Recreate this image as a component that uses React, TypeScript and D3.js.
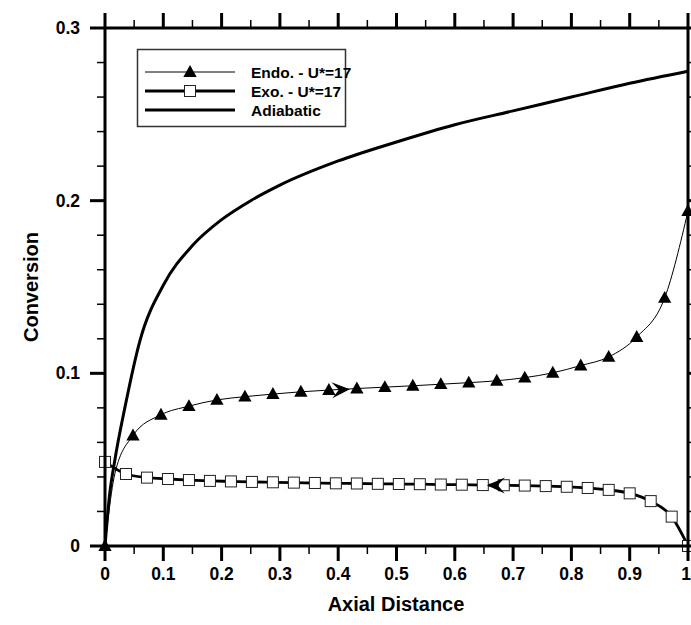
import React from "react";
import * as d3 from "d3";

// ---- data ----
const adiabaticX = [0, 0.008, 0.017, 0.034, 0.06, 0.1, 0.15, 0.2, 0.25, 0.3, 0.4, 0.5, 0.6, 0.7, 0.8, 0.9, 1.0];
const adiabaticY = [0, 0.03, 0.05, 0.08, 0.119, 0.151, 0.174, 0.189, 0.2, 0.209, 0.223, 0.234, 0.244, 0.252, 0.26, 0.268, 0.275];

const endoX = [0, 0.048, 0.096, 0.144, 0.192, 0.24, 0.288, 0.336, 0.384, 0.432, 0.48, 0.528, 0.576, 0.624, 0.672, 0.72, 0.768, 0.816, 0.864, 0.912, 0.96, 1.0];
const endoY = [0, 0.064, 0.076, 0.081, 0.0846, 0.0865, 0.088, 0.0893, 0.0903, 0.0912, 0.092, 0.0928, 0.0937, 0.0946, 0.0957, 0.0975, 0.1003, 0.1045, 0.1095, 0.121, 0.1437, 0.194];
// extra points of the endo curve read near the origin (line only)
const endoLineExtraX = [0.005, 0.017];
const endoLineExtraY = [0.015, 0.042];

const exoX = [0, 0.036, 0.072, 0.108, 0.144, 0.18, 0.216, 0.252, 0.288, 0.324, 0.36, 0.396, 0.432, 0.468, 0.504, 0.54, 0.576, 0.612, 0.648, 0.684, 0.72, 0.756, 0.792, 0.828, 0.864, 0.9, 0.936, 0.972, 1.0];
const exoY = [0.0487, 0.0417, 0.0396, 0.0388, 0.0382, 0.0377, 0.0374, 0.0371, 0.0369, 0.0367, 0.0365, 0.0363, 0.0362, 0.036, 0.0359, 0.0358, 0.0356, 0.0355, 0.0353, 0.0352, 0.035, 0.0347, 0.0343, 0.0336, 0.0325, 0.0305, 0.026, 0.017, 0];

const xTicks = [0, 0.1, 0.2, 0.3, 0.4, 0.5, 0.6, 0.7, 0.8, 0.9, 1];
const xTickLabels = ["0", "0.1", "0.2", "0.3", "0.4", "0.5", "0.6", "0.7", "0.8", "0.9", "1"];
const yTicks = [0, 0.1, 0.2, 0.3];
const yTickLabels = ["0", "0.1", "0.2", "0.3"];

const legendLabels = ["Endo. - U*=17", "Exo. - U*=17", "Adiabatic"];

const FONT = "'Liberation Sans', Arial, Helvetica, sans-serif";

export default function App() {
  const x = d3.scaleLinear().domain([0, 1]).range([105, 688]);
  const y = d3.scaleLinear().domain([0, 0.3]).range([546, 28]);

  const xMinor = d3.range(0.05, 1, 0.1);
  const yMinor = d3.range(0, 0.3001, 0.02).filter((v) => Math.abs(v * 10 - Math.round(v * 10)) > 1e-6);

  const line = d3
    .line<[number, number]>()
    .x((d) => x(d[0]))
    .y((d) => y(d[1]))
    .curve(d3.curveMonotoneX);

  const adiabatic: [number, number][] = adiabaticX.map((v, i) => [v, adiabaticY[i]]);
  const endoPts: [number, number][] = endoX.map((v, i) => [v, endoY[i]]);
  const endoLinePts: [number, number][] = [
    ...endoPts,
    ...endoLineExtraX.map((v, i) => [v, endoLineExtraY[i]] as [number, number]),
  ].sort((a, b) => a[0] - b[0]);
  const exoPts: [number, number][] = exoX.map((v, i) => [v, exoY[i]]);

  const tri = (cx: number, cy: number, s = 7) =>
    `M${cx},${cy - s} L${cx + s * 0.95},${cy + s * 0.7} L${cx - s * 0.95},${cy + s * 0.7} Z`;

  // stealth arrowhead pointing in direction angle (radians)
  const arrow = (px: number, py: number, ang: number) => {
    const L = 18, W = 8, N = 11;
    const c = Math.cos(ang), s = Math.sin(ang);
    const p = (u: number, v: number) => `${px + u * c - v * s},${py + u * s + v * c}`;
    return `M${p(0, 0)} L${p(-L, -W)} L${p(-N, 0)} L${p(-L, W)} Z`;
  };

  const ea = 0.42;
  const eay = 0.0908;
  const endoAng = Math.atan2(y(0.0912) - y(0.0903), x(0.432) - x(0.384));
  const xa = 0.655;
  const xay = 0.03525;
  const exoAng = Math.PI + Math.atan2(y(0.0353) - y(0.0355), x(0.684) - x(0.648));

  const lx0 = 145, lx1 = 235, lmid = 190;
  const rows = [72, 91, 110];

  return (
    <svg
      width={691}
      height={625}
      style={{ position: "absolute", left: 0, top: 0, background: "#fff" }}
      fontFamily={FONT}
    >
      <rect x={0} y={0} width={691} height={625} fill="#fff" />
      {/* data lines */}
      <path d={line(adiabatic) || ""} fill="none" stroke="#000" strokeWidth={3} />
      <path d={line(endoLinePts) || ""} fill="none" stroke="#000" strokeWidth={1} />
      <path d={line(exoPts) || ""} fill="none" stroke="#000" strokeWidth={2.8} />

      {/* squares */}
      {exoPts.map((d, i) => (
        <rect key={"s" + i} x={x(d[0]) - 5.5} y={y(d[1]) - 5.5} width={11} height={11} fill="#fff" stroke="#222" strokeWidth={1} />
      ))}

      {/* arrows */}
      <path d={arrow(x(ea), y(eay), endoAng)} fill="#000" />
      <path d={arrow(x(xa), y(xay), exoAng)} fill="#000" />

      {/* axes frame */}
      <g stroke="#000" fill="none">
        <line x1={105} y1={546} x2={688} y2={546} strokeWidth={3} />
        <line x1={105} y1={28} x2={688} y2={28} strokeWidth={3} />
        <line x1={105} y1={28} x2={105} y2={546} strokeWidth={3} />
        <line x1={688} y1={28} x2={688} y2={546} strokeWidth={3} />
        {xTicks.map((t) => (
          <g key={"xt" + t}>
            <line x1={x(t)} x2={x(t)} y1={546} y2={561} strokeWidth={3} />
            <line x1={x(t)} x2={x(t)} y1={28} y2={13} strokeWidth={3} />
          </g>
        ))}
        {xMinor.map((t) => (
          <g key={"xm" + t}>
            <line x1={x(t)} x2={x(t)} y1={546} y2={554} strokeWidth={1.5} />
            <line x1={x(t)} x2={x(t)} y1={28} y2={20} strokeWidth={1.5} />
          </g>
        ))}
        {yTicks.map((t) => (
          <g key={"yt" + t}>
            <line x1={105} x2={90} y1={y(t)} y2={y(t)} strokeWidth={3} />
            <line x1={688} x2={703} y1={y(t)} y2={y(t)} strokeWidth={3} />
          </g>
        ))}
        {yMinor.map((t) => (
          <g key={"ym" + t}>
            <line x1={105} x2={97} y1={y(t)} y2={y(t)} strokeWidth={1.5} />
            <line x1={688} x2={696} y1={y(t)} y2={y(t)} strokeWidth={1.5} />
          </g>
        ))}
      </g>

      {/* triangles */}
      {endoPts.map((d, i) => (
        <path key={"t" + i} d={tri(x(d[0]), y(d[1]))} fill="#000" />
      ))}

      {/* tick labels */}
      <g fontWeight="bold" fontSize={17.5} fill="#000">
        {xTicks.map((t, i) => (
          <text key={"xl" + t} x={i === xTicks.length - 1 ? 686 : x(t)} y={580} textAnchor="middle">
            {xTickLabels[i]}
          </text>
        ))}
        {yTicks.map((t, i) => (
          <text key={"yl" + t} x={80} y={y(t) + 6} textAnchor="end">
            {yTickLabels[i]}
          </text>
        ))}
      </g>

      {/* axis titles */}
      <text x={396} y={611} textAnchor="middle" fontWeight="bold" fontSize={20}>
        Axial Distance
      </text>
      <text
        transform="translate(38,287) rotate(-90)"
        textAnchor="middle"
        fontWeight="bold"
        fontSize={20}
      >
        Conversion
      </text>

      {/* legend */}
      <rect x={137.5} y={49.5} width={208} height={77} fill="#fff" stroke="#333" strokeWidth={1.5} />
      <line x1={lx0} x2={lx1} y1={rows[0]} y2={rows[0]} stroke="#000" strokeWidth={1} />
      <path d={tri(lmid, rows[0])} fill="#000" />
      <line x1={lx0} x2={lx1} y1={rows[1]} y2={rows[1]} stroke="#000" strokeWidth={2.8} />
      <rect x={lmid - 5.5} y={rows[1] - 5.5} width={11} height={11} fill="#fff" stroke="#222" strokeWidth={1} />
      <line x1={lx0} x2={lx1} y1={rows[2]} y2={rows[2]} stroke="#000" strokeWidth={3} />
      <g fontWeight="bold" fontSize={15.5}>
        {legendLabels.map((l, i) => (
          <text key={l} x={251} y={rows[i] + 6}>
            {l}
          </text>
        ))}
      </g>
    </svg>
  );
}
